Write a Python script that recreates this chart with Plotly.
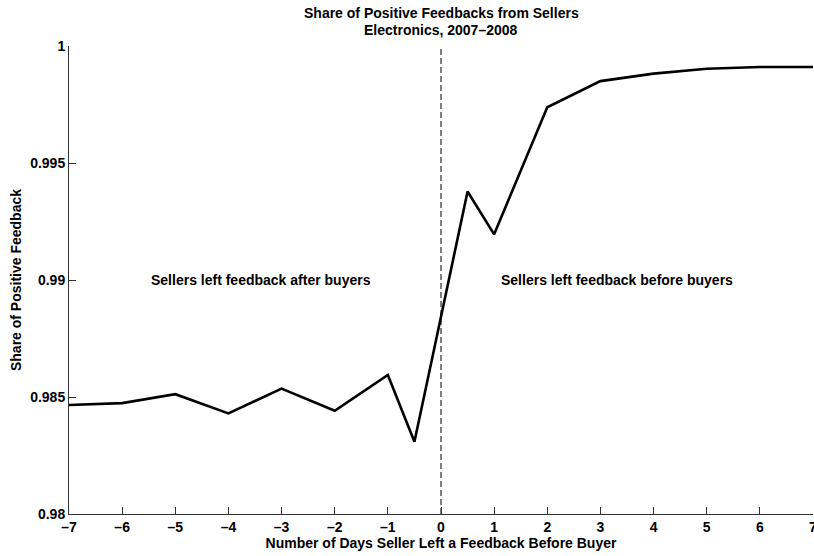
import plotly.graph_objects as go

# Days between seller feedback and buyer feedback (negative = seller after buyer)
days = [-7, -6, -5, -4, -3, -2, -1, -0.5, 0, 0.5, 1, 2, 3, 4, 5, 6, 7]
share_positive = [0.98466, 0.98474, 0.98512, 0.98430, 0.98536, 0.98441, 0.98594,
                  0.98309, 0.98843, 0.99378, 0.99195, 0.99738, 0.99850, 0.99882,
                  0.99903, 0.99910, 0.99910]

x_ticks = list(range(-7, 8))
y_ticks = [0.98, 0.985, 0.99, 0.995, 1.0]
y_tick_labels = ["0.98", "0.985", "0.99", "0.995", "1"]

title_lines = ["Share of Positive Feedbacks from Sellers", "Electronics, 2007\u20132008"]

FONT = "Liberation Sans, Arial, sans-serif"
FS = 14
PLOT_TOP, PLOT_H = 46, 468

def bold(size=FS):
    return dict(family=FONT, size=size, color="black", weight="bold")

fig = go.Figure()

# vertical dashed reference line at day 0
fig.add_trace(go.Scatter(
    x=[0, 0], y=[0.98, 1.0], mode="lines",
    line=dict(color="black", width=1, dash="6px,3px"),
    hoverinfo="skip", showlegend=False,
))

fig.add_trace(go.Scatter(
    x=days, y=share_positive, mode="lines",
    line=dict(color="black", width=2.6),
    showlegend=False,
))

fig.add_annotation(x=-5.5, y=0.99, xref="x", yref="y", xanchor="left",
                   text="Sellers left feedback after buyers", showarrow=False,
                   font=bold())
fig.add_annotation(x=1.1, y=0.99, xref="x", yref="y", xanchor="left",
                   text="Sellers left feedback before buyers", showarrow=False,
                   font=bold())

# two-line title centred over the plot area
for line_text, y_px in zip(title_lines, [13, 30]):
    fig.add_annotation(x=0.5, xref="paper", xanchor="center",
                       y=1 + (PLOT_TOP - y_px) / PLOT_H, yref="paper",
                       yanchor="middle", text=line_text, showarrow=False,
                       font=bold())

axis_common = dict(
    showgrid=False, zeroline=False, showline=True, linecolor="#333333",
    linewidth=1, ticks="inside", ticklen=7, tickcolor="#333333", tickwidth=1,
    tickfont=bold(), ticklabeloverflow="allow", mirror=False,
)

fig.update_layout(
    width=814, height=556,
    margin=dict(l=69, r=1, t=PLOT_TOP, b=556 - PLOT_TOP - PLOT_H, autoexpand=False),
    paper_bgcolor="white", plot_bgcolor="white",
    xaxis=dict(
        range=[-7, 7], tickvals=x_ticks,
        ticktext=[str(v).replace("-", "\u2013") for v in x_ticks],
        title=dict(text="Number of Days Seller Left a Feedback Before Buyer",
                   font=bold(), standoff=0),
        **axis_common,
    ),
    yaxis=dict(
        range=[0.98, 1.0], tickvals=y_ticks, ticktext=y_tick_labels,
        title=dict(text="Share of Positive Feedback", font=bold(), standoff=5),
        **axis_common,
    ),
)

fig.write_html("out.html")
